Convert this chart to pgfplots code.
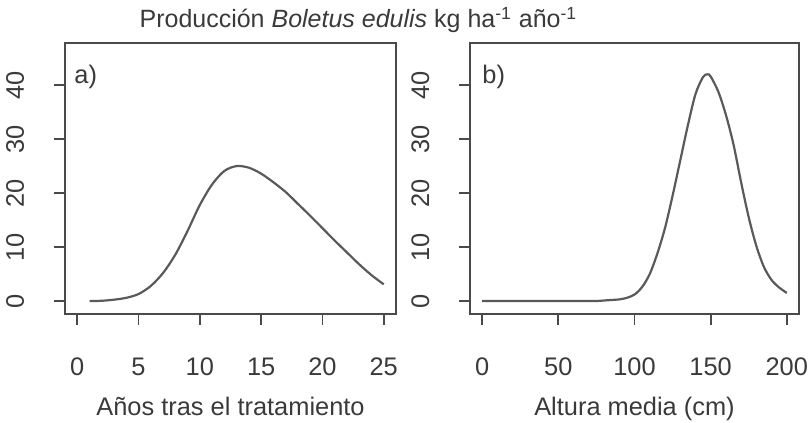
\documentclass[border=0pt]{standalone}
\usepackage{fontspec}
\setmainfont{Liberation Sans}
\usepackage{pgfplots}
\pgfplotsset{compat=1.18}
\definecolor{boxc}{HTML}{4A4A4A}
\definecolor{curvec}{HTML}{5A5A5A}
\definecolor{txtc}{HTML}{3A3A3A}
\newcommand{\fs}{\fontsize{12.7}{14}\selectfont}
\pgfplotsset{
  rstyle/.style={
    scale only axis,
    anchor=south west,
    height=135.5pt,
    ymin=-2.4, ymax=47.8,
    ytick={0,10,20,30,40},
    tick align=outside,
    major tick length=5.5pt,
    axis line style={boxc, line width=0.9pt},
    every tick/.style={boxc, line width=0.9pt},
    xtick pos=bottom, ytick pos=left,
    /pgf/number format/assume math mode=true,
    ticklabel style={font=\fs, text=txtc},
    yticklabel style={xshift=-15pt, rotate=90, anchor=base, inner sep=0pt},
    xticklabel style={yshift=-25.5pt, anchor=base, inner sep=0pt},
    label style={font=\fs, text=txtc},
    xlabel style={at={(axis description cs:0.5,0)}, anchor=base, yshift=-51pt, inner sep=0pt},
  },
  curve/.style={curvec, line width=1.1pt, smooth, no markers},
}
\begin{document}
\begin{tikzpicture}
\useasboundingbox (0,0) rectangle (405pt,211.5pt);
\node[anchor=base west, inner sep=0pt, text=txtc, font=\fontsize{12.5}{14}\selectfont] at (69.6pt,197.5pt)
  {Producción \textit{Boletus edulis} kg ha\textsuperscript{-1} año\textsuperscript{-1}};
\begin{axis}[rstyle, at={(32.5pt,54.5pt)}, width=165.5pt,
  xmin=-1, xmax=26, xtick={0,5,10,15,20,25},
  xlabel={Años tras el tratamiento}]
\addplot[curve] coordinates {
(1,0.0) (2,0.05) (3,0.25) (4,0.6) (5,1.3) (6,2.8) (7,5.2) (8,8.6) (9,13.0)
(10,17.8) (11,21.6) (12,24.1) (13,25.0) (14,24.7) (15,23.6) (16,22.0)
(17,20.2) (18,18.0) (19,15.8) (20,13.5) (21,11.2) (22,9.0) (23,6.8)
(24,4.8) (25,3.1)};
\end{axis}
\begin{axis}[rstyle, at={(235pt,54.5pt)}, width=164.5pt,
  xmin=-8, xmax=208, xtick={0,50,100,150,200},
  xlabel={Altura media (cm)}]
\addplot[curve] coordinates {
(0,0) (10,0) (20,0) (30,0) (40,0) (50,0) (60,0) (70,0) (75,0) (80,0.1)
(85,0.2) (90,0.3) (95,0.6) (100,1.2) (105,2.6) (110,5.0) (115,8.8)
(120,13.5) (125,19.5) (130,26.0) (135,32.5) (140,38.3) (145,41.5)
(148,42.0) (150,41.6) (155,38.8) (160,34.5) (165,29.0) (170,22.0)
(175,15.5) (180,10.2) (185,6.3) (190,3.9) (195,2.5) (200,1.5)};
\end{axis}
\node[anchor=base west, inner sep=0pt, text=txtc, font=\fs] at (37pt,169.7pt) {a)};
\node[anchor=base west, inner sep=0pt, text=txtc, font=\fs] at (241pt,169.7pt) {b)};
\end{tikzpicture}
\end{document}
